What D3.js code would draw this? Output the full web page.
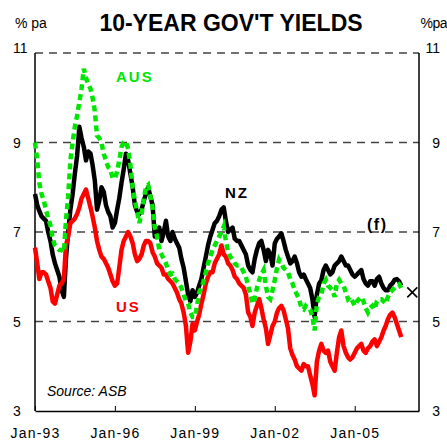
<!DOCTYPE html>
<html>
<head>
<meta charset="utf-8">
<script src="https://cdn.jsdelivr.net/npm/d3@7"></script>
<style>
  body { margin: 0; background: #fff; }
  svg { display: block; font-family: "Liberation Sans", Arial, sans-serif; }
</style>
</head>
<body>
<svg id="chart" width="447" height="441"></svg>
<script>
// monthly 10-year yields, starting Jan-93
const startMonth = new Date(1993, 0, 1);

const nzYields = [
  7.85, 7.6, 7.47, 7.35, 7.3, 7.25, 7.0, 6.8, 6.5, 6.3, 6.15, 6.0,
  5.7, 5.55, 6.4, 7.0, 7.5, 7.85, 8.3, 8.7, 9.35, 9.1, 8.9, 8.6,
  8.8, 8.75, 8.5, 8.15, 7.5, 7.7, 8.0, 7.9, 7.6, 7.45, 7.35, 7.1,
  7.2, 7.5, 7.75, 8.1, 8.4, 8.75, 8.6, 8.3, 8.0, 7.6, 7.45, 7.4,
  7.5, 7.7, 7.85, 8.0, 7.8, 7.6, 6.9, 7.0, 7.1, 6.8, 7.0, 7.25,
  6.9, 6.8, 7.0, 6.85, 6.75, 6.65, 6.4, 6.2, 5.9, 5.6, 5.45, 5.7,
  5.55, 5.65, 5.8, 5.95, 6.2, 6.45, 6.7, 6.9, 7.05, 7.2, 7.25, 7.35,
  7.5, 7.55, 7.25, 7.0, 7.05, 7.1, 6.85, 6.8, 6.8, 6.7, 6.6, 6.5,
  6.25, 6.15, 6.1, 6.4, 6.6, 6.75, 6.8, 6.6, 6.35, 6.6, 6.5, 6.25,
  6.75, 6.85, 6.9, 6.97, 6.8, 6.6, 6.45, 6.3, 6.35, 6.45, 6.3, 6.1,
  6.0, 6.05, 5.95, 5.85, 5.75, 5.5, 5.1, 5.6, 5.85, 5.92, 6.15, 6.25,
  6.15, 6.05, 6.1, 6.25, 6.3, 6.35, 6.45, 6.35, 6.25, 6.25, 6.15, 6.05,
  6.0, 6.05, 6.1, 6.15, 5.95, 5.85, 5.8, 5.9, 5.9, 5.8, 5.95, 6.0,
  5.85, 5.75, 5.7, 5.7, 5.8, 5.85, 5.93, 5.95, 5.9, 5.8
];

const usYields = [
  6.65, 6.3, 5.95, 6.1, 6.1, 6.05, 5.9, 5.75, 5.45, 5.4, 5.6, 5.8,
  5.85, 5.95, 6.7, 6.9, 7.2, 7.25, 7.3, 7.4, 7.55, 7.75, 7.85, 7.95,
  7.75, 7.55, 7.35, 7.1, 6.8, 6.6, 6.45, 6.4, 6.3, 6.2, 6.05, 5.9,
  5.8, 5.85, 6.2, 6.6, 6.8, 6.9, 7.0, 6.9, 6.75, 6.5, 6.35, 6.4,
  6.5, 6.7, 6.8, 6.8, 6.75, 6.55, 6.45, 6.3, 6.25, 6.2, 6.05, 6.05,
  5.95, 5.9, 5.85, 5.75, 5.65, 5.5, 5.4, 5.2, 4.9, 4.3, 4.55, 4.95,
  4.8, 5.0, 5.15, 5.4, 5.6, 5.85, 6.0, 6.1, 6.1, 6.3, 6.4, 6.5,
  6.7, 6.5, 6.45, 6.3, 6.25, 6.15, 6.0, 5.95, 5.85, 5.8, 5.75, 5.6,
  5.2, 5.1, 4.9, 5.2, 5.35, 5.5, 5.3, 5.05, 4.85, 4.5, 4.7, 4.9,
  5.0, 5.2, 5.3, 5.35, 5.25, 5.05, 4.85, 4.4, 4.25, 4.15, 4.0, 3.95,
  3.9, 4.05, 4.0, 4.0, 3.8, 3.6, 3.35, 4.1, 4.35, 4.5, 4.35, 4.3,
  4.35, 4.1, 4.0, 3.9, 4.3, 4.65, 4.8, 4.45, 4.3, 4.2, 4.15, 4.2,
  4.3, 4.4, 4.45, 4.5, 4.35, 4.3, 4.4, 4.45, 4.55, 4.6, 4.45, 4.55,
  4.65, 4.8, 4.9, 5.05, 5.15, 5.2, 5.1, 4.95, 4.8, 4.65
];

const ausYields = [
  9.0, 8.6, 8.1, 7.85, 7.7, 7.5, 7.3, 7.15, 6.85, 6.7, 6.65, 6.6,
  6.6, 6.55, 7.25, 7.8, 8.6, 9.0, 9.35, 9.6, 9.9, 10.2, 10.65, 10.45,
  10.3, 10.2, 10.0, 9.7, 9.15, 9.1, 9.0, 8.75, 8.6, 8.45, 8.4, 8.2,
  8.2, 8.35, 8.6, 8.9, 9.0, 9.02, 8.85, 8.5, 8.0, 7.7, 7.45, 7.2,
  7.4, 7.75, 8.0, 8.05, 7.8, 7.55, 7.1, 6.9, 6.6, 6.5, 6.4, 6.3,
  6.15, 6.05, 6.07, 5.95, 5.9, 5.85, 5.75, 5.6, 5.45, 5.4, 5.2, 5.1,
  5.1, 5.35, 5.65, 5.75, 5.9, 6.1, 6.3, 6.45, 6.6, 6.7, 6.8, 6.9,
  7.0, 7.12, 6.8, 6.55, 6.45, 6.38, 6.3, 6.25, 6.25, 6.2, 6.1, 6.0,
  5.8, 5.6, 5.4, 5.5, 5.75, 5.93, 6.05, 6.15, 5.8, 5.55, 5.5, 5.7,
  5.93, 6.2, 6.38, 6.3, 6.2, 6.15, 6.1, 5.95, 5.85, 5.7, 5.6, 5.5,
  5.3, 5.27, 5.35, 5.3, 5.27, 5.1, 4.8, 5.4, 5.55, 5.6, 5.85, 5.93,
  5.8, 5.75, 5.7, 5.55, 5.85, 5.93, 5.85, 5.8, 5.65, 5.5, 5.55, 5.45,
  5.35, 5.45, 5.5, 5.55, 5.45, 5.3, 5.2, 5.3, 5.35, 5.27, 5.45, 5.5,
  5.5, 5.45, 5.4, 5.55, 5.65, 5.7, 5.75, 5.8, 5.83, 5.75
];

// NZ forecast point (f)
const forecastDate = new Date(2007, 2, 1);
const forecastValue = 5.65;

const yTicks = [3, 5, 7, 9, 11];
const xTickYears = [1993, 1996, 1999, 2002, 2005];

const svg = d3.select('#chart');

const plotLeft = 35, plotRight = 419, plotTop = 53, plotBottom = 411;

const x = d3.scaleTime()
  .domain([new Date(1993, 0, 1), new Date(2007, 5, 1)])
  .range([plotLeft, plotRight]);

const y = d3.scaleLinear()
  .domain([3, 11])
  .range([plotBottom, plotTop]);

const toPoints = arr => arr.map((v, i) => ({ date: d3.timeMonth.offset(startMonth, i), value: v }));

// dashed gridlines (top one doubles as the frame)
svg.append('g')
  .selectAll('line')
  .data(yTicks.filter(t => t > 3))
  .enter()
  .append('line')
  .attr('x1', plotLeft)
  .attr('x2', plotRight)
  .attr('y1', d => y(d))
  .attr('y2', d => y(d))
  .attr('stroke', '#444')
  .attr('stroke-width', 1.4)
  .attr('stroke-dasharray', '8,6');

// left / right frame
svg.append('line')
  .attr('x1', plotLeft).attr('x2', plotLeft).attr('y1', plotTop).attr('y2', plotBottom)
  .attr('stroke', '#000').attr('stroke-width', 1.5);
svg.append('line')
  .attr('x1', plotRight).attr('x2', plotRight).attr('y1', plotTop).attr('y2', plotBottom)
  .attr('stroke', '#000').attr('stroke-width', 1.5);

// bottom axis
let xAxis = d3.axisBottom(x)
  .tickValues(xTickYears.map(yr => new Date(yr, 0, 1)))
  .tickFormat(d3.timeFormat('%b-%y'))
  .tickSize(-5)
  .tickSizeOuter(0);

let gx = svg.append('g')
  .attr('transform', 'translate(0,' + plotBottom + ')')
  .call(xAxis);

gx.select('.domain').attr('stroke-width', 1.5);
gx.selectAll('.tick line').attr('stroke-width', 1);
gx.selectAll('.tick text')
  .attr('y', 27)
  .attr('dy', 0)
  .attr('font-size', 14)
  .attr('font-family', '"Liberation Sans", Arial, sans-serif')
  .attr('letter-spacing', 1.2)
  .attr('fill', '#000');

// y labels both sides
svg.append('g')
  .selectAll('text')
  .data(yTicks)
  .enter()
  .append('text')
  .attr('x', 13)
  .attr('y', d => d === 11 ? y(d) : y(d) + 5)
  .attr('font-size', 14)
  .text(d => d);

svg.append('g')
  .selectAll('text')
  .data(yTicks)
  .enter()
  .append('text')
  .attr('x', 440)
  .attr('text-anchor', 'end')
  .attr('y', d => d === 11 ? y(d) : y(d) + 5)
  .attr('font-size', 14)
  .text(d => d);

// lines
const line = d3.line()
  .x(d => x(d.date))
  .y(d => y(d.value));

svg.append('path')
  .datum(toPoints(nzYields))
  .attr('d', line)
  .attr('fill', 'none')
  .attr('stroke', '#000')
  .attr('stroke-width', 4.5)
  .attr('stroke-linejoin', 'round');

svg.append('path')
  .datum(toPoints(usYields))
  .attr('d', line)
  .attr('fill', 'none')
  .attr('stroke', '#ff0000')
  .attr('stroke-width', 4.5)
  .attr('stroke-linejoin', 'round');

svg.append('path')
  .datum(toPoints(ausYields))
  .attr('d', line)
  .attr('fill', 'none')
  .attr('stroke', '#00e600')
  .attr('stroke-width', 4.5)
  .attr('stroke-dasharray', '6,4');

// forecast marker
let fx = x(forecastDate), fy = y(forecastValue);
svg.append('path')
  .attr('d', 'M' + (fx - 5) + ',' + (fy - 5) + 'L' + (fx + 5) + ',' + (fy + 5) +
             'M' + (fx - 5) + ',' + (fy + 5) + 'L' + (fx + 5) + ',' + (fy - 5))
  .attr('stroke', '#000')
  .attr('stroke-width', 1.6);

// titles and labels
svg.append('text')
  .attr('x', 231).attr('y', 31)
  .attr('text-anchor', 'middle')
  .attr('font-size', 23)
  .attr('font-weight', 'bold')
  .text("10-YEAR GOV'T YIELDS");

svg.append('text')
  .attr('x', 15).attr('y', 28)
  .attr('font-size', 14)
  .text('% pa');

svg.append('text')
  .attr('x', 447).attr('y', 28)
  .attr('text-anchor', 'end')
  .attr('font-size', 14)
  .attr('letter-spacing', -0.5)
  .text('%pa');

svg.append('text')
  .attr('x', 116).attr('y', 82)
  .attr('font-size', 15)
  .attr('font-weight', 'bold')
  .attr('letter-spacing', 2)
  .attr('fill', '#00e600')
  .text('AUS');

svg.append('text')
  .attr('x', 225).attr('y', 198)
  .attr('font-size', 15)
  .attr('font-weight', 'bold')
  .attr('letter-spacing', 2)
  .text('NZ');

svg.append('text')
  .attr('x', 116).attr('y', 312)
  .attr('font-size', 15)
  .attr('font-weight', 'bold')
  .attr('letter-spacing', 2)
  .attr('fill', '#ff0000')
  .text('US');

svg.append('text')
  .attr('x', 367).attr('y', 230)
  .attr('font-size', 16)
  .attr('font-weight', 'bold')
  .attr('letter-spacing', 1.5)
  .text('(f)');

svg.append('text')
  .attr('x', 47).attr('y', 396)
  .attr('font-size', 14)
  .attr('font-style', 'italic')
  .text('Source: ASB');
</script>
</body>
</html>
